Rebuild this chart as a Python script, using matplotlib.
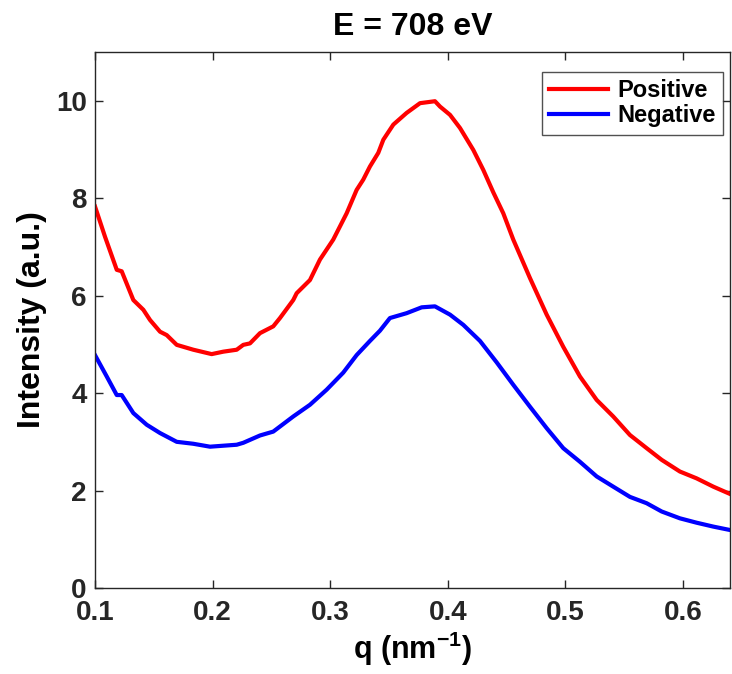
import numpy as np
import matplotlib
matplotlib.use('Agg')
import matplotlib.pyplot as plt
from matplotlib import font_manager

# pick a condensed bold sans if available (MATLAB Helvetica look)
names = {f.name for f in font_manager.fontManager.ttflist}
family = 'Liberation Sans Narrow' if 'Liberation Sans Narrow' in names else 'Liberation Sans'
plt.rcParams['font.family'] = [family, 'DejaVu Sans']
plt.rcParams['font.weight'] = 'bold'
plt.rcParams['mathtext.fontset'] = 'custom'
plt.rcParams['mathtext.rm'] = family + ':bold'
plt.rcParams['mathtext.default'] = 'rm'

# Positive curve (q in nm^-1, intensity a.u.)
q_pos = [0.100, 0.1085, 0.1185, 0.1227, 0.1326, 0.1411, 0.1468, 0.1553, 0.161, 0.1695,
         0.1836, 0.1992, 0.2091, 0.2205, 0.2261, 0.2318, 0.2403, 0.2516, 0.2573, 0.2686,
         0.2715, 0.2828, 0.2913, 0.3026, 0.314, 0.3225, 0.3281, 0.3338, 0.3409, 0.3452,
         0.3537, 0.365, 0.3764, 0.3891, 0.3934, 0.4019, 0.4104, 0.4217, 0.4302, 0.4387,
         0.4472, 0.4557, 0.4699, 0.4841, 0.4982, 0.5124, 0.5266, 0.5407, 0.5549, 0.5691,
         0.5819, 0.5974, 0.6116, 0.6258, 0.640]
i_pos = [7.83, 7.21, 6.53, 6.50, 5.91, 5.71, 5.50, 5.26, 5.19, 4.99,
         4.89, 4.80, 4.85, 4.89, 4.99, 5.02, 5.23, 5.37, 5.54, 5.91,
         6.05, 6.32, 6.74, 7.15, 7.69, 8.17, 8.38, 8.65, 8.93, 9.20,
         9.51, 9.75, 9.95, 9.99, 9.88, 9.71, 9.44, 8.99, 8.58, 8.12,
         7.69, 7.15, 6.36, 5.61, 4.95, 4.34, 3.86, 3.52, 3.14, 2.87,
         2.63, 2.39, 2.25, 2.08, 1.93]

# Negative curve
q_neg = [0.100, 0.110, 0.1185, 0.1227, 0.1326, 0.144, 0.1553, 0.1695, 0.1836, 0.1978,
         0.2091, 0.2205, 0.2261, 0.2403, 0.2516, 0.2686, 0.2828, 0.297, 0.3111, 0.3225,
         0.3338, 0.3423, 0.3508, 0.365, 0.3778, 0.3891, 0.4019, 0.4132, 0.4274, 0.4416,
         0.4557, 0.4699, 0.4841, 0.4982, 0.5124, 0.5266, 0.5407, 0.5549, 0.5691, 0.5819,
         0.5974, 0.6116, 0.6258, 0.640]
i_neg = [4.78, 4.34, 3.96, 3.96, 3.59, 3.35, 3.18, 3.00, 2.96, 2.90,
         2.92, 2.94, 2.98, 3.13, 3.21, 3.52, 3.76, 4.07, 4.42, 4.78,
         5.07, 5.28, 5.54, 5.64, 5.76, 5.78, 5.61, 5.40, 5.07, 4.63,
         4.17, 3.72, 3.28, 2.87, 2.59, 2.29, 2.08, 1.87, 1.74, 1.57,
         1.43, 1.34, 1.26, 1.19]

xticks = [0.1, 0.2, 0.3, 0.4, 0.5, 0.6]
yticks = [0, 2, 4, 6, 8, 10]

fig = plt.figure(figsize=(7.32, 6.74), dpi=100)
ax = fig.add_axes([95 / 732, 86 / 674, 635 / 732, 536 / 674])

ax.plot(q_pos, i_pos, color='#ff0000', lw=3, label='Positive')
ax.plot(q_neg, i_neg, color='#0000ff', lw=3, label='Negative')

ax.set_xlim(0.1, 0.64)
ax.set_ylim(0, 11)
ax.set_xticks(xticks)
ax.set_xticklabels([f'{t:g}' for t in xticks])
ax.set_yticks(yticks)

dark = '#262626'
for s in ax.spines.values():
    s.set_color(dark)
    s.set_linewidth(1.0)
ax.tick_params(direction='in', length=6, width=1, top=True, right=True,
               colors=dark, labelsize=20)
ax.tick_params(axis='x', pad=9)
ax.tick_params(axis='y', pad=6)
for lab in ax.get_xticklabels() + ax.get_yticklabels():
    lab.set_fontweight('bold')

ax.set_title('E = 708 eV', fontsize=23, fontweight='bold', pad=12)
ax.set_xlabel(r'q (nm$^{-1}$)', fontsize=22, fontweight='bold', labelpad=2)
ax.set_ylabel('Intensity (a.u.)', fontsize=23, fontweight='bold', labelpad=6)

# legend box sits ~7 px from the right edge and ~20 px below the top
leg = ax.legend(loc='upper right', bbox_to_anchor=(1 - 7 / 635, 1 - 20 / 536),
                fontsize=17, frameon=True, fancybox=False,
                edgecolor=dark, handlelength=2.5, handletextpad=0.4,
                borderpad=0.3, labelspacing=0.1, borderaxespad=0.0)
leg.get_frame().set_linewidth(1.0)
for t in leg.get_texts():
    t.set_fontweight('bold')

fig.savefig('out.png', dpi=100)
